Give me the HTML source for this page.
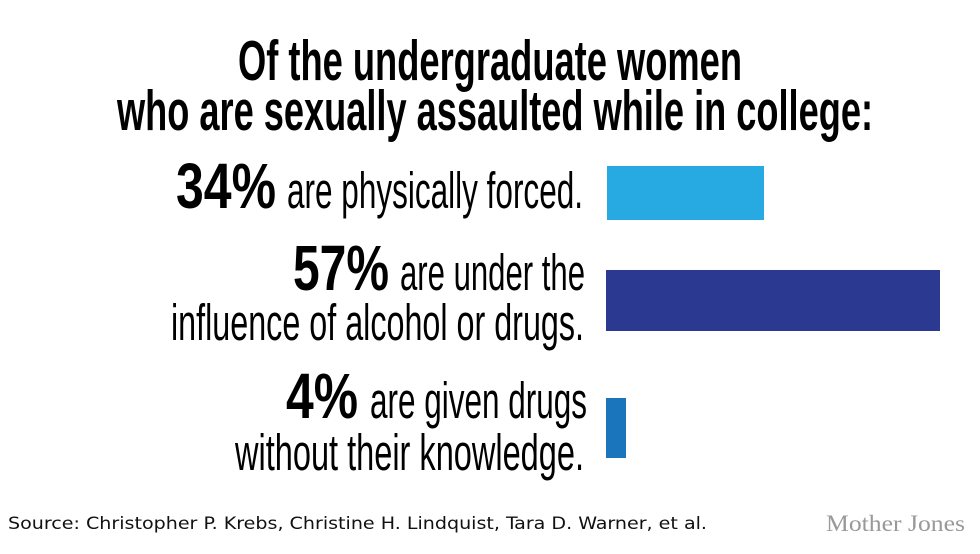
<!DOCTYPE html>
<html><head><meta charset="utf-8"><style>
html,body{margin:0;padding:0;background:#fff;}
svg{display:block;}
</style></head><body>
<svg width="980" height="554" viewBox="0 0 980 554" xmlns="http://www.w3.org/2000/svg">
<rect width="980" height="554" fill="#fff"/>
<g font-family="'Liberation Sans Narrow','Liberation Sans',sans-serif" fill="#000">
<text x="238" y="80" font-size="57" font-weight="bold" textLength="504" lengthAdjust="spacingAndGlyphs">Of the undergraduate women</text>
<text x="117" y="130" font-size="57" font-weight="bold" textLength="756" lengthAdjust="spacingAndGlyphs">who are sexually assaulted while in college:</text>

<text x="176" y="208" font-size="64" font-weight="bold" textLength="100" lengthAdjust="spacingAndGlyphs">34%</text>
<text x="287" y="208" font-size="51" textLength="296" lengthAdjust="spacingAndGlyphs">are physically forced.</text>

<text x="293" y="290" font-size="64" font-weight="bold" textLength="96" lengthAdjust="spacingAndGlyphs">57%</text>
<text x="400" y="290" font-size="51" textLength="185" lengthAdjust="spacingAndGlyphs">are under the</text>
<text x="171" y="340" font-size="51" textLength="413" lengthAdjust="spacingAndGlyphs">influence of alcohol or drugs.</text>

<text x="286" y="418" font-size="64" font-weight="bold" textLength="72" lengthAdjust="spacingAndGlyphs">4%</text>
<text x="370" y="418" font-size="51" textLength="217" lengthAdjust="spacingAndGlyphs">are given drugs</text>
<text x="235" y="470" font-size="51" textLength="349" lengthAdjust="spacingAndGlyphs">without their knowledge.</text>
</g>
<rect x="607" y="166" width="157" height="54" fill="#27aae1"/>
<rect x="606" y="270" width="334" height="61" fill="#2b3990"/>
<rect x="606" y="398" width="20" height="60" fill="#1b75bc"/>
<text x="8" y="529" font-family="'DejaVu Sans Condensed','DejaVu Sans','Liberation Sans',sans-serif" font-size="17" fill="#111" textLength="699" lengthAdjust="spacingAndGlyphs">Source: Christopher P. Krebs, Christine H. Lindquist, Tara D. Warner, et al.</text>
<text x="826" y="531" font-family="'Liberation Serif',serif" font-size="23" fill="#999" textLength="139" lengthAdjust="spacingAndGlyphs">Mother Jones</text>
</svg>
</body></html>
